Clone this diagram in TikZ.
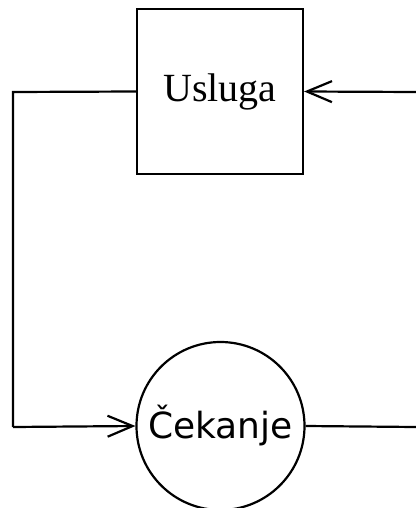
\documentclass[tikz,border=0pt]{standalone}
\usepackage{fontspec}
\setmainfont{Liberation Serif}
\newfontfamily\dejavu{DejaVu Sans}
\usetikzlibrary{arrows.meta}
\begin{document}
\begin{tikzpicture}[x=1pt,y=-1pt,
  conn/.style={line width=2.2pt,-{Straight Barb[length=25pt,width=21pt,line width=2.2pt]}},
  plain/.style={line width=2.2pt}]
\useasboundingbox (0,0) rectangle (415,508);
\node[draw,line width=2.2pt,minimum width=166pt,minimum height=165pt,inner sep=0pt,font=\fontsize{40}{44}\selectfont] (usl) at (220,91.5) {Usluga};
\node[draw,circle,line width=2.2pt,minimum size=168pt,inner sep=0pt,font=\dejavu\fontsize{36}{40}\selectfont] (cek) at (220.5,426) {Čekanje};
\coordinate (lc) at (13,92);
\coordinate (ld) at (13,427);
\coordinate (re) at (416,427);
\coordinate (rt) at (416,92);
\draw[plain] (usl.west) -- (lc) -- (ld);
\draw[conn] (ld) -- (cek.west);
\draw[plain] (cek.east) -- (re);
\draw[conn] (rt) -- (usl.east);
\end{tikzpicture}
\end{document}
